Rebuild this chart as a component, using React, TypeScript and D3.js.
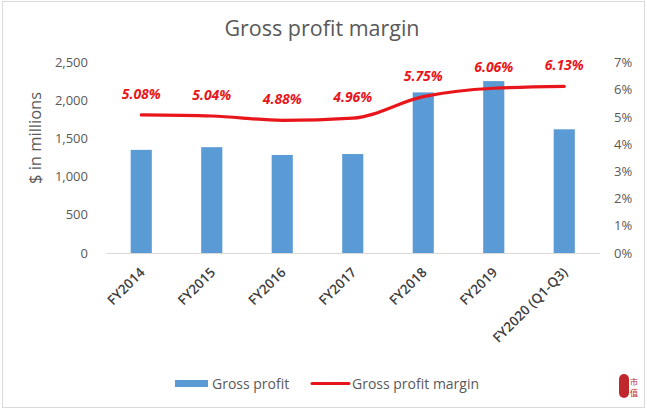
import React from "react";
import * as d3 from "d3";

const categories = ["FY2014", "FY2015", "FY2016", "FY2017", "FY2018", "FY2019", "FY2020 (Q1-Q3)"];
const grossProfit = [1355, 1390, 1288, 1300, 2110, 2258, 1625];
const grossMargin = [5.08, 5.04, 4.88, 4.96, 5.75, 6.06, 6.13];
const leftTicks = [0, 500, 1000, 1500, 2000, 2500];
const rightTicks = [0, 1, 2, 3, 4, 5, 6, 7];

const W = 647;
const H = 411;
const FONT = "'Open Sans', 'Noto Sans', sans-serif";
const GREY = "#595959";

export default function App() {
  const x = d3.scaleBand<string>().domain(categories).range([106, 599.5]).paddingInner(0.7).paddingOuter(0.35);
  const xc = (c: string) => (x(c) as number) + x.bandwidth() / 2;
  const yL = d3.scaleLinear().domain([0, 2500]).range([253, 62.7]);
  const yR = d3.scaleLinear().domain([0, 7]).range([253, 62.7]);
  const line = d3
    .line<number>()
    .x((_, i) => xc(categories[i]))
    .y((d) => yR(d))
    .curve(d3.curveMonotoneX);

  return (
    <svg width={W} height={H} style={{ position: "absolute", left: 0, top: 0, display: "block", background: "#fff" }}>
      <rect x={2.5} y={1.5} width={642} height={406} fill="#fff" stroke="#d9d9d9" strokeWidth={1} />
      <text x={322} y={36} textAnchor="middle" fontFamily={FONT} fontSize={21.5} fill={GREY}>
        Gross profit margin
      </text>
      {leftTicks.map((t) => (
        <text key={"l" + t} x={88} y={yL(t)} dy="0.35em" textAnchor="end" fontFamily={FONT} fontSize={13} fill={GREY}>
          {d3.format(",")(t)}
        </text>
      ))}
      {rightTicks.map((t) => (
        <text key={"r" + t} x={614} y={yR(t)} dy="0.35em" textAnchor="start" fontFamily={FONT} fontSize={13} fill={GREY}>
          {t + "%"}
        </text>
      ))}
      <text transform={`translate(41,138) rotate(-90)`} textAnchor="middle" fontFamily={FONT} fontSize={16.5} fill={GREY}>
        $ in millions
      </text>
      {categories.map((c, i) => (
        <rect key={c} x={x(c)} y={yL(grossProfit[i])} width={x.bandwidth()} height={yL(0) - yL(grossProfit[i])} fill="#5b9bd5" />
      ))}
      <line x1={106} x2={600} y1={253.5} y2={253.5} stroke="#d9d9d9" strokeWidth={1} />
      {categories.map((c) => (
        <text
          key={"x" + c}
          transform={`translate(${xc(c) + 1},${270}) rotate(-45)`}
          textAnchor="end"
          dy="0.35em"
          fontFamily={FONT}
          fontSize={13.5}
          fontWeight={600}
          fill="#404040"
        >
          {c}
        </text>
      ))}
      <path d={line(grossMargin) as string} fill="none" stroke="#e8161b" strokeWidth={3.2} strokeLinecap="round" />
      {grossMargin.map((v, i) => (
        <text
          key={"m" + i}
          x={xc(categories[i])}
          y={yR(v) - 16}
          textAnchor="middle"
          fontFamily={FONT}
          fontSize={14}
          fontWeight="bold"
          fontStyle="italic"
          fill="#e8161b"
        >
          {d3.format(".2f")(v) + "%"}
        </text>
      ))}
      <rect x={175} y={380} width={33} height={7} fill="#5b9bd5" />
      <text x={212} y={384} dy="0.35em" fontFamily={FONT} fontSize={14} fill={GREY}>
        Gross profit
      </text>
      <line x1={312} x2={349} y1={383.5} y2={383.5} stroke="#e8161b" strokeWidth={3} strokeLinecap="round" />
      <text x={352} y={384} dy="0.35em" fontFamily={FONT} fontSize={14} fill={GREY}>
        Gross profit margin
      </text>
      <rect x={619} y={374} width={10} height={24} rx={5} fill="#c0282d" />
      <text x={634} y={385} textAnchor="middle" fontFamily="'Noto Sans CJK SC', sans-serif" fontSize={8} fill="#c0282d">
        市
      </text>
      <text x={634} y={396} textAnchor="middle" fontFamily="'Noto Sans CJK SC', sans-serif" fontSize={8} fill="#c0282d">
        值
      </text>
    </svg>
  );
}
